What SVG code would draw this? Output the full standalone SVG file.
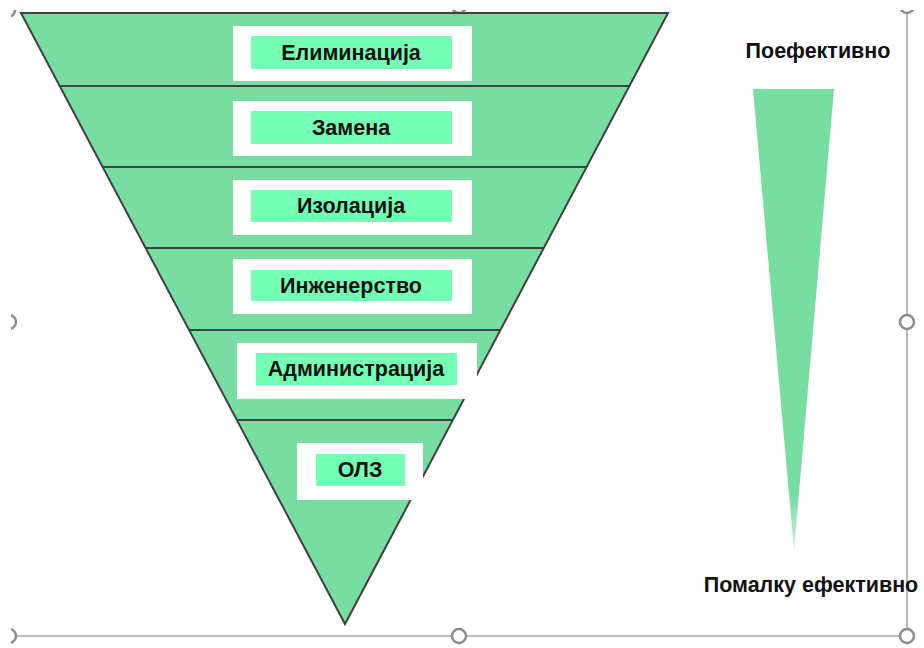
<svg xmlns="http://www.w3.org/2000/svg" width="924" height="648" viewBox="0 0 924 648">
<style>
.band{fill:#77DDA0;stroke:#404040;stroke-width:2;stroke-linejoin:miter}
.div{stroke:#404040;stroke-width:2}
.wbox{fill:#FFFFFF}
.gbox{fill:#75FFB5}
.lbl{font-family:"Liberation Sans",Arial,sans-serif;font-weight:bold;font-size:21.5px;fill:#111111;text-anchor:middle}
.frame{stroke:#A6A6A6;stroke-width:1.6;fill:none}
.handle{fill:#FFFFFF;stroke:#8C8C8C;stroke-width:2.5}
</style>
<defs>
<linearGradient id="fade" x1="0" y1="0" x2="0" y2="1">
<stop offset="0" stop-color="#77DDA0" stop-opacity="1"/>
<stop offset="0.88" stop-color="#77DDA0" stop-opacity="1"/>
<stop offset="1" stop-color="#77DDA0" stop-opacity="0.4"/>
</linearGradient>
<clipPath id="vis"><rect x="11" y="10" width="913" height="638"/></clipPath>
</defs>
<g id="frame" clip-path="url(#vis)">
<line class="frame" x1="907" y1="0" x2="907" y2="636"/>
<line class="frame" x1="10" y1="636" x2="907" y2="636"/>
<circle class="handle" cx="459" cy="6" r="7"/>
<circle class="handle" cx="907" cy="6" r="7"/>
<circle class="handle" cx="8" cy="10" r="7"/>
<circle class="handle" cx="9" cy="322" r="7"/>
<circle class="handle" cx="907" cy="322" r="7"/>
<circle class="handle" cx="9" cy="636" r="7"/>
<circle class="handle" cx="459" cy="636" r="7"/>
<circle class="handle" cx="907" cy="636" r="7"/>
</g>
<g id="pyramid">
<polygon class="band" points="21,13 668,13 345,624"/>
<line class="div" x1="59.7" y1="86" x2="629.4" y2="86"/>
<line class="div" x1="102.7" y1="167" x2="586.6" y2="167"/>
<line class="div" x1="145.6" y1="248" x2="543.8" y2="248"/>
<line class="div" x1="189.1" y1="330" x2="500.4" y2="330"/>
<line class="div" x1="236.8" y1="420" x2="452.8" y2="420"/>
</g>
<g id="n1">
<rect class="wbox" x="233" y="26" width="239" height="55"/>
<rect class="gbox" x="251" y="36" width="201" height="33"/>
<text class="lbl" x="351" y="60">Елиминација</text>
</g>
<g id="n2">
<rect class="wbox" x="233" y="101" width="239" height="55"/>
<rect class="gbox" x="251" y="111" width="201" height="33"/>
<text class="lbl" x="351" y="135">Замена</text>
</g>
<g id="n3">
<rect class="wbox" x="233" y="180" width="239" height="55"/>
<rect class="gbox" x="251" y="190" width="201" height="32"/>
<text class="lbl" x="351" y="213">Изолација</text>
</g>
<g id="n4">
<rect class="wbox" x="233" y="259" width="239" height="55"/>
<rect class="gbox" x="251" y="270" width="201" height="31"/>
<text class="lbl" x="351" y="293">Инженерство</text>
</g>
<g id="n5">
<rect class="wbox" x="237" y="343" width="240" height="56"/>
<rect class="gbox" x="256" y="353" width="201" height="32"/>
<text class="lbl" x="356" y="376">Администрација</text>
</g>
<g id="n6">
<rect class="wbox" x="297" y="443" width="126" height="57"/>
<rect class="gbox" x="316" y="454" width="89" height="32"/>
<text class="lbl" x="360" y="477">ОЛЗ</text>
</g>
<g id="scale">
<polygon points="753,89 834,89 794,550" fill="url(#fade)"/>
<text class="lbl" x="818" y="58">Поефективно</text>
<text class="lbl" x="811" y="592">Помалку ефективно</text>
</g>
</svg>
